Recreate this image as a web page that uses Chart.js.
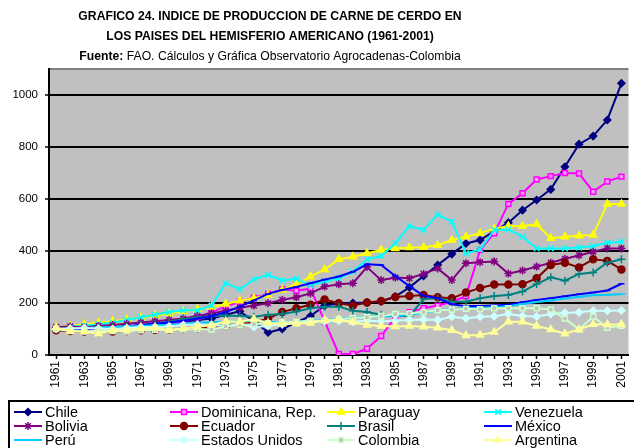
<!DOCTYPE html>
<html>
<head>
<meta charset="utf-8">
<script src="https://cdn.jsdelivr.net/npm/chart.js@4.4.1/dist/chart.umd.min.js"></script>
<style>
  html, body { margin: 0; padding: 0; background: #fff; }
  #wrap { width: 634px; height: 448px; }
</style>
</head>
<body>
<div id="wrap"><canvas id="grafico" width="634" height="448"></canvas></div>
<script>
const years = ["1961","1962","1963","1964","1965","1966","1967","1968","1969","1970",
  "1971","1972","1973","1974","1975","1976","1977","1978","1979","1980",
  "1981","1982","1983","1984","1985","1986","1987","1988","1989","1990",
  "1991","1992","1993","1994","1995","1996","1997","1998","1999","2000","2001"];

// indices (1961 = base ~100)
const chile = [105,102,100,104,106,110,113,118,122,128, 135,140,155,168,130,87,100,125,150,190,
  198,200,202,206,225,260,304,346,388,429, 442,476,509,557,596,637,724,811,842,904,1045];
const dominicana = [105,103,100,102,105,108,112,115,120,128, 145,165,186,205,220,235,253,247,255,130,
  4,4,24,73,145,165,180,190,205,226, 404,468,581,622,675,688,700,698,628,667,686];
const paraguay = [108,112,118,124,130,137,144,152,160,168, 176,185,196,209,218,231,250,272,301,329,
  368,378,391,404,410,413,414,422,442,455, 468,486,496,496,503,449,455,459,462,581,581];
const venezuela = [105,110,112,118,125,135,145,155,165,172, 172,190,276,253,291,308,287,293,269,282,
  295,321,368,381,429,496,481,540,513,391, 406,481,483,455,410,410,410,413,419,432,436];
const bolivia = [108,110,107,112,115,120,125,130,135,140, 150,160,170,182,190,199,212,222,237,263,
  272,276,338,288,298,295,312,333,288,353, 357,360,313,325,340,355,370,383,397,410,410];
const ecuador = [95,92,90,88,90,92,95,97,98,100, 103,108,112,118,125,140,165,180,193,213,
  199,190,202,208,223,227,231,222,218,240, 258,271,271,272,295,346,355,337,368,362,329];
const brasil = [100,102,104,106,108,110,115,120,128,138, 145,150,152,150,147,155,158,167,180,186,
  186,170,165,155,150,150,215,218,205,205, 218,227,231,244,273,299,286,312,317,355,368];
const mexico = [100,98,100,103,106,110,115,120,125,132, 140,150,165,186,210,235,250,262,276,290,
  302,320,349,346,304,265,228,218,195,188, 188,190,193,203,212,218,226,234,240,248,274];
const peru = [100,102,104,106,108,110,112,114,116,120, 124,126,128,130,132,128,125,128,132,135,
  140,143,146,148,150,155,162,172,176,180, 182,184,188,196,204,210,217,224,230,232,234];
const eeuu = [100,102,104,102,100,104,108,108,110,115, 117,114,112,118,108,112,118,124,128,130,
  132,128,132,130,132,135,137,135,147,141, 147,149,158,150,148,158,162,164,170,170,171];
const colombia = [100,92,90,93,92,90,95,97,96,98, 100,98,110,115,118,122,125,128,132,132,
  138,142,145,150,158,160,165,172,174,178, 176,180,180,180,180,175,140,98,148,105,112];
const argentina = [105,92,90,82,95,96,102,104,97,103, 108,115,130,128,138,122,120,120,123,135,
  136,127,115,112,110,112,109,105,95,75, 77,88,128,128,112,98,82,98,118,117,117];

const serie = (label, data, color, style, fill, radius, idx) => ({
  label: label,
  data: data,
  borderColor: color,
  backgroundColor: color,
  borderWidth: 2,
  pointStyle: style,
  pointRadius: radius,
  pointBorderColor: color,
  pointBackgroundColor: fill,
  pointBorderWidth: 1.5,
  tension: 0,
  order: 20 - idx,
});

const fontFam = '"Liberation Sans", Arial, sans-serif';
Chart.defaults.font.family = fontFam;
Chart.defaults.color = "#000";

const sinTope = c => c.tick && c.tick.value > 1000;

// fondo gris del area de trazado
const fondo = {
  id: "fondo",
  beforeDraw(chart) {
    const { ctx, chartArea: a } = chart;
    ctx.save();
    ctx.fillStyle = "#fff";
    ctx.fillRect(0, 0, chart.width, chart.height);
    ctx.fillStyle = "#C0C0C0";
    ctx.fillRect(a.left, a.top, a.right - a.left, a.bottom - a.top);
    ctx.strokeStyle = "#808080";
    ctx.lineWidth = 2;
    ctx.beginPath();
    ctx.moveTo(a.left, a.top);
    ctx.lineTo(a.right, a.top);
    ctx.stroke();
    ctx.restore();
  },
};

const titulo = {
  id: "titulo",
  afterDraw(chart) {
    const ctx = chart.ctx;
    const cx = 270;
    const fs = "12.2px ";
    ctx.save();
    ctx.fillStyle = "#000";
    ctx.textBaseline = "middle";
    ctx.textAlign = "center";
    ctx.font = "bold " + fs + fontFam;
    ctx.fillText("GRAFICO 24. INDICE DE PRODUCCION DE CARNE DE CERDO EN", cx, 17);
    ctx.fillText("LOS PAISES DEL HEMISFERIO AMERICANO (1961-2001)", cx, 37);
    const b = "Fuente:";
    const r = " FAO. Cálculos y Gráfica Observatorio Agrocadenas-Colombia";
    const wb = ctx.measureText(b).width;
    ctx.font = fs + fontFam;
    const wr = ctx.measureText(r).width;
    let x = cx - (wb + wr) / 2;
    ctx.textAlign = "left";
    ctx.font = "bold " + fs + fontFam;
    ctx.fillText(b, x, 57);
    ctx.font = fs + fontFam;
    ctx.fillText(r, x + wb, 57);
    ctx.restore();
  },
};

// leyenda en 4 columnas como la original
const leyenda = {
  id: "leyenda",
  afterDraw(chart) {
    const ctx = chart.ctx;
    const cols = [14, 170, 327, 484];
    const rows = [412, 426, 440];
    ctx.save();
    ctx.strokeStyle = "#000";
    ctx.lineWidth = 2;
    ctx.strokeRect(9, 401, 640, 60);
    ctx.font = "14.5px " + fontFam;
    ctx.textBaseline = "middle";
    ctx.textAlign = "left";
    chart.data.datasets.forEach((ds, i) => {
      const x = cols[i % 4];
      const y = rows[Math.floor(i / 4)];
      ctx.strokeStyle = ds.borderColor;
      ctx.lineWidth = 2;
      ctx.beginPath();
      ctx.moveTo(x, y);
      ctx.lineTo(x + 28, y);
      ctx.stroke();
      ctx.fillStyle = ds.pointBackgroundColor;
      ctx.strokeStyle = ds.pointBorderColor;
      ctx.lineWidth = ds.pointBorderWidth;
      Chart.helpers.drawPoint(ctx, { pointStyle: ds.pointStyle, radius: ds.pointRadius, rotation: 0, borderWidth: ds.pointBorderWidth }, x + 14, y);
      ctx.fillStyle = "#000";
      ctx.fillText(ds.label, x + 31, y + 1);
    });
    ctx.restore();
  },
};

const ctx = document.getElementById("grafico");

new Chart(ctx, {
  type: "line",
  data: {
    labels: years,
    datasets: [
      serie("Chile", chile, "#000080", "rectRot", "#000080", 3.5, 0),
      serie("Dominicana, Rep.", dominicana, "#FF00FF", "rect", "#FF99FF", 3.5, 1),
      serie("Paraguay", paraguay, "#FFFF00", "triangle", "#FFFF00", 4, 2),
      serie("Venezuela", venezuela, "#00FFFF", "crossRot", "#00FFFF", 4, 3),
      serie("Bolivia", bolivia, "#800080", "star", "#800080", 4, 4),
      serie("Ecuador", ecuador, "#800000", "circle", "#800000", 3.5, 5),
      serie("Brasil", brasil, "#008080", "cross", "#008080", 4, 6),
      serie("México", mexico, "#0000FF", "line", "#0000FF", 3, 7),
      serie("Perú", peru, "#00CCFF", "line", "#00CCFF", 4, 8),
      serie("Estados Unidos", eeuu, "#CCFFFF", "rectRot", "#CCFFFF", 3.5, 9),
      serie("Colombia", colombia, "#CCFFCC", "rect", "#C0C0C0", 3.5, 10),
      serie("Argentina", argentina, "#FFFF99", "triangle", "#FFFF99", 4, 11),
    ],
  },
  options: {
    responsive: false,
    animation: false,
    events: [],
    layout: {
      padding: { top: 69, right: 0, bottom: 48, left: 0 },
    },
    plugins: {
      legend: { display: false },
      title: { display: false },
      tooltip: { enabled: false },
    },
    scales: {
      x: {
        offset: true,
        ticks: {
          autoSkip: false,
          maxRotation: 90,
          minRotation: 90,
          padding: 2,
          font: { size: 12 },
          callback: (v, i) => (i % 2 === 0 ? years[i] : ""),
        },
        grid: {
          drawOnChartArea: false,
          tickLength: 4,
          color: "#000",
          tickWidth: 1.5,
        },
        border: { color: "#000", width: 2 },
        afterFit: s => {
          s.height = 45;
          s.paddingLeft = 0;
          s.paddingRight = 0;
        },
      },
      y: {
        min: 0,
        max: 1100,
        ticks: {
          stepSize: 200,
          padding: 7,
          font: { size: 11.5 },
          callback: v => (v > 1000 ? "" : String(v)),
        },
        grid: {
          color: c => (sinTope(c) ? "rgba(0,0,0,0)" : "#000"),
          tickColor: c => (sinTope(c) ? "rgba(0,0,0,0)" : "#000"),
          lineWidth: 2,
          tickLength: 4,
          tickWidth: 1.5,
        },
        border: { color: "#000", width: 2 },
        afterFit: s => {
          s.width = 49;
          s.paddingTop = 0;
          s.paddingBottom = 0;
        },
      },
    },
  },
  plugins: [fondo, titulo, leyenda],
});
</script>
</body>
</html>
